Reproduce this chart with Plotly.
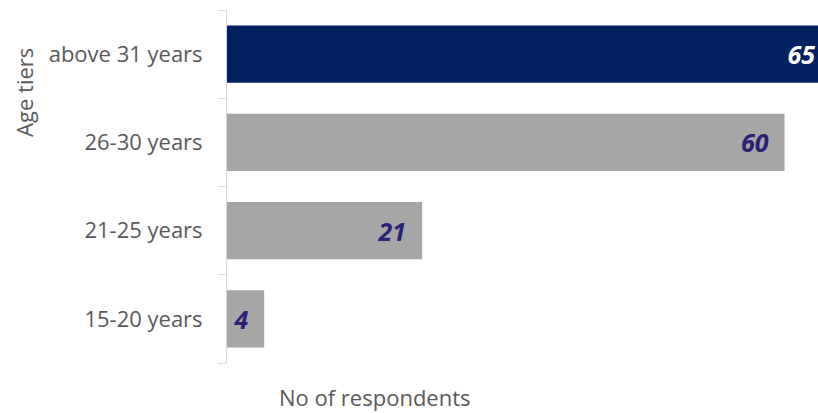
import plotly.graph_objects as go

categories = ["15-20 years", "21-25 years", "26-30 years", "above 31 years"]
respondents = [4, 21, 60, 65]
bar_colors = ["#a6a6a6", "#a6a6a6", "#a6a6a6", "#002060"]
label_colors = ["#2b2075", "#2b2075", "#2b2075", "#ffffff"]
x_title = "No of respondents"
y_title = "Age tiers"

NB = "\u00a0"
labels = [f"<b><i>{v}</i></b>{NB}{NB}" for v in respondents]

fig = go.Figure(
    go.Bar(
        x=respondents,
        y=categories,
        orientation="h",
        width=0.65,
        marker=dict(color=bar_colors, line=dict(width=0)),
        text=labels,
        textposition="inside",
        insidetextanchor="end",
        textangle=0,
        textfont=dict(family="Open Sans", size=25, color=label_colors),
        hoverinfo="skip",
    )
)

fig.update_layout(
    width=818,
    height=413,
    margin=dict(l=227, r=0, t=10, b=50),
    paper_bgcolor="white",
    plot_bgcolor="white",
    showlegend=False,
    font=dict(family="Open Sans", color="#595959"),
    xaxis=dict(
        range=[0, 63.6],
        showgrid=False,
        zeroline=False,
        showline=False,
        showticklabels=False,
        ticks="",
        fixedrange=True,
    ),
    yaxis=dict(
        categoryorder="array",
        categoryarray=categories,
        showgrid=False,
        zeroline=False,
        showline=True,
        linecolor="#d9d9d9",
        linewidth=1,
        ticks="outside",
        tickson="boundaries",
        ticklen=8,
        tickcolor="#d9d9d9",
        tickwidth=1,
        ticklabelstandoff=19,
        tickfont=dict(family="Open Sans", size=22, color="#595959"),
        fixedrange=True,
    ),
    annotations=[
        dict(
            text=y_title,
            xref="paper",
            yref="paper",
            x=-0.3435,
            y=0.768,
            textangle=-90,
            showarrow=False,
            xanchor="center",
            yanchor="middle",
            font=dict(family="Open Sans", size=22, color="#595959"),
        ),
        dict(
            text=x_title,
            xref="paper",
            yref="paper",
            x=0.2504,
            y=-0.097,
            showarrow=False,
            xanchor="center",
            yanchor="middle",
            font=dict(family="Open Sans", size=22, color="#595959"),
        ),
    ],
)

fig.write_html(
    "out.html",
    config={"displayModeBar": False},
    post_script="document.body.style.margin='0';document.body.style.overflow='hidden';",
)
